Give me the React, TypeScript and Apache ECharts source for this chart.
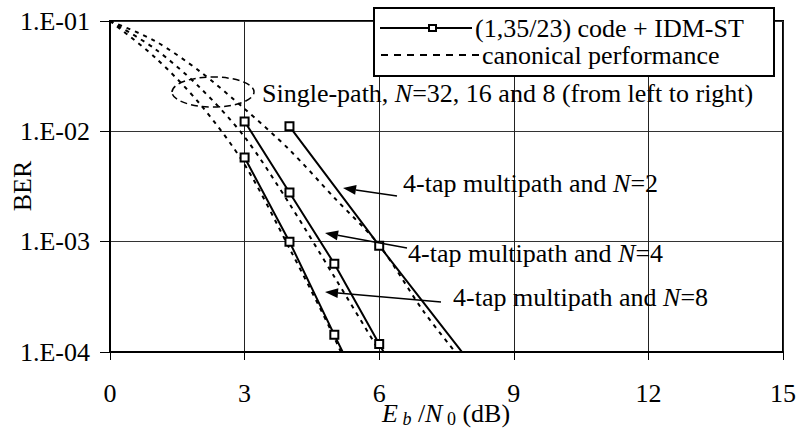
import React, { useEffect, useRef } from "react";
import * as echarts from "echarts";

// IDM-ST solid curves (4-tap multipath)
const xN8 = [3, 4, 5, 6];
const berN8 = [5.8e-3, 1.0e-3, 1.43e-4, 2.1e-5];
const xN4 = [3, 4, 5, 6, 7];
const berN4 = [1.23e-2, 2.79e-3, 6.3e-4, 1.18e-4, 2.2e-5];
const xN2 = [4, 6, 8];
const berN2 = [1.11e-2, 9.2e-4, 8.3e-5];

// canonical (single-path) dashed curves
const xCanon = [0, 1, 2, 3, 4, 5, 6, 7, 8];
const sp32 = [0.1, 0.047, 0.0178, 0.005, 8.7e-4, 1.35e-4, 1.6e-5];
const sp16 = [0.1, 0.056, 0.025, 0.0089, 2.2e-3, 4.8e-4, 1.02e-4, 2.0e-5];
const sp8 = [0.1, 0.066, 0.035, 0.016, 6.8e-3, 2.5e-3, 9.3e-4, 2.3e-4, 7.0e-5];

const xTicks = [0, 3, 6, 9, 12, 15];
const yTickLabels = ["1.E-04", "1.E-03", "1.E-02", "1.E-01"];

const FONT = "Liberation Serif";
const FS = 26;

function pairs(xs: number[], ys: number[]) {
  return ys.map((y, i) => [xs[i], y]);
}

function arrow(x1: number, y1: number, x2: number, y2: number) {
  const ang = Math.atan2(y2 - y1, x2 - x1);
  const L = 13, W = 5;
  const bx = x2 - L * Math.cos(ang), by = y2 - L * Math.sin(ang);
  const px = -Math.sin(ang) * W, py = Math.cos(ang) * W;
  return [
    { type: "line", shape: { x1, y1, x2: bx, y2: by }, style: { stroke: "#000", lineWidth: 1.5 }, z: 19 },
    {
      type: "polygon",
      shape: { points: [[x2, y2], [bx + px, by + py], [bx - px, by - py]] },
      style: { fill: "#000" },
      z: 19,
    },
  ];
}

export default function App() {
  const ref = useRef<HTMLDivElement>(null);
  useEffect(() => {
    document.body.style.margin = "0";
    if (!ref.current) return;
    const chart = echarts.init(ref.current, null, { renderer: "svg" });
    const solid = (name: string, data: number[][]) => ({
      name,
      type: "line",
      data,
      symbol: "rect",
      symbolSize: 8,
      showSymbol: true,
      itemStyle: { color: "#fff", borderColor: "#000", borderWidth: 2 },
      lineStyle: { color: "#000", width: 2 },
      z: 5,
    });
    const dashed = (name: string, data: number[][]) => ({
      name,
      type: "line",
      data,
      showSymbol: false,
      symbol: "none",
      smooth: 0.3,
      lineStyle: { color: "#000", width: 2, type: [4, 5] },
      z: 4,
    });
    const txt = (x: number, y: number, text: string) => ({
      type: "text",
      x,
      y,
      style: { text, fill: "#000", font: `${FS}px ${FONT}`, verticalAlign: "middle" },
      z: 20,
    });
    const richBase = {
      n: { font: `${FS}px ${FONT}`, fill: "#000" },
      i: { font: `italic ${FS}px ${FONT}`, fill: "#000" },
    };
    const tapLabel = (x: number, y: number, n: string) => ({
      type: "text",
      x,
      y,
      style: {
        text: `{n|4-tap multipath and }{i|N}{n|=${n}}`,
        verticalAlign: "middle",
        rich: richBase,
      },
      z: 20,
    });

    chart.setOption({
      animation: false,
      backgroundColor: "#fff",
      grid: {
        left: 110,
        right: 17,
        top: 21,
        bottom: 76,
        show: true,
        borderColor: "#000",
        borderWidth: 2,
        backgroundColor: "transparent",
      },
      xAxis: {
        type: "value",
        min: 0,
        max: 15,
        interval: 3,
        axisLine: { show: true, lineStyle: { color: "#000", width: 2 } },
        axisTick: { show: true, inside: false, length: 8, lineStyle: { color: "#000", width: 1 } },
        axisLabel: {
          color: "#000",
          fontSize: FS,
          fontFamily: FONT,
          margin: 28,
          formatter: (v: number) => (xTicks.includes(v) ? String(v) : ""),
        },
        splitLine: { show: true, lineStyle: { color: "#222", width: 1 } },
      },
      yAxis: {
        type: "log",
        logBase: 10,
        min: 1e-4,
        max: 1e-1,
        axisLine: { show: true, lineStyle: { color: "#000", width: 2 } },
        axisTick: { show: true, inside: false, length: 10, lineStyle: { color: "#000", width: 1 } },
        minorTick: { show: false },
        axisLabel: {
          color: "#000",
          fontSize: FS,
          fontFamily: FONT,
          margin: 20,
          formatter: (v: number) => {
            const e = Math.round(Math.log10(v));
            const lbl = "1.E-0" + String(-e);
            return yTickLabels.includes(lbl) ? lbl : "";
          },
        },
        splitLine: { show: true, lineStyle: { color: "#333", width: 1 } },
      },
      series: [
        dashed("single-path N=32", pairs(xCanon, sp32)),
        dashed("single-path N=16", pairs(xCanon, sp16)),
        dashed("single-path N=8", pairs(xCanon, sp8)),
        solid("4-tap N=8", pairs(xN8, berN8)),
        solid("4-tap N=4", pairs(xN4, berN4)),
        solid("4-tap N=2", pairs(xN2, berN2)),
      ],
      graphic: [
        // legend box
        {
          type: "rect",
          shape: { x: 374, y: 8, width: 400, height: 68 },
          style: { fill: "#fff", stroke: "#000", lineWidth: 2 },
          z: 15,
        },
        { type: "line", shape: { x1: 380, y1: 28, x2: 472, y2: 28 }, style: { stroke: "#000", lineWidth: 2 }, z: 16 },
        {
          type: "rect",
          shape: { x: 429, y: 25, width: 7, height: 6 },
          style: { fill: "#fff", stroke: "#000", lineWidth: 2 },
          z: 17,
        },
        txt(475, 28, "(1,35/23) code + IDM-ST"),
        {
          type: "line",
          shape: { x1: 381, y1: 55, x2: 480, y2: 55 },
          style: { stroke: "#000", lineWidth: 2, lineDash: [7, 6] },
          z: 16,
        },
        txt(482, 55, "canonical performance"),
        // ellipse
        {
          type: "ellipse",
          shape: { cx: 213, cy: 92, rx: 41, ry: 15 },
          style: { fill: "none", stroke: "#000", lineWidth: 1.5, lineDash: [7, 4] },
          z: 18,
        },
        {
          type: "text",
          x: 262,
          y: 93,
          style: {
            text: "{n|Single-path, }{i|N}{n|=32, 16 and 8 (from left to right)}",
            verticalAlign: "middle",
            rich: richBase,
          },
          z: 20,
        },
        tapLabel(403, 183, "2"),
        tapLabel(408, 253, "4"),
        tapLabel(453, 297, "8"),
        ...arrow(397, 196, 343, 188),
        ...arrow(407, 248, 325, 233),
        ...arrow(441, 302, 325, 292),
        // axis titles
        {
          type: "text",
          x: 22,
          y: 186,
          rotation: Math.PI / 2,
          style: { text: "BER", font: `${FS}px ${FONT}`, fill: "#000", align: "center", verticalAlign: "middle" },
        },
        {
          type: "text",
          x: 382,
          y: 413,
          style: {
            text: "{e|E}{s| b}{n| /}{e|N}{t| 0}{n| (dB)}",
            verticalAlign: "middle",
            rich: {
              e: { font: `italic ${FS}px ${FONT}`, fill: "#000", lineHeight: 30, verticalAlign: "middle" },
              n: { font: `${FS}px ${FONT}`, fill: "#000", lineHeight: 30, verticalAlign: "middle" },
              s: { font: `italic 18px ${FONT}`, fill: "#000", lineHeight: 30, verticalAlign: "bottom" },
              t: { font: `18px ${FONT}`, fill: "#000", lineHeight: 30, verticalAlign: "bottom" },
            },
          },
        },
      ],
    });
    return () => chart.dispose();
  }, []);
  return <div ref={ref} style={{ width: 800, height: 428 }} />;
}
